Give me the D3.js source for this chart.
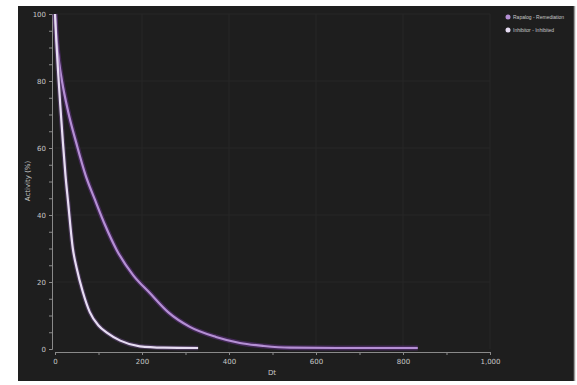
<!DOCTYPE html>
<html>
<head>
<meta charset="utf-8">
<script src="https://cdn.jsdelivr.net/npm/d3@7"></script>
<style>
	body { margin: 0; background: #ffffff; }
	text { font-family: "DejaVu Sans", sans-serif; }
</style>
</head>
<body>
<div id="contenedor_grafico"></div>
<script>
// datos (x = t, y = actividad %)
var serie_nombres = ["Rapalog - Remediation", "Inhibitor - Inhibited"];
var serie_a_x = [0, 4, 10, 16, 30, 50, 70, 92, 115, 142, 180, 218, 260, 310, 370, 425, 480, 540, 650, 750, 834];
var serie_a_y = [100, 92, 85, 80, 71, 61, 52, 44.5, 37, 29.5, 22, 16.7, 11, 6.6, 3.6, 1.8, 0.9, 0.4, 0.3, 0.3, 0.3];
var serie_b_x = [0, 3, 7, 12, 18, 24, 30, 41, 50, 64, 80, 100, 120, 150, 195, 250, 329];
var serie_b_y = [100, 92, 83, 73, 62, 52, 44, 30, 24, 17, 11, 7, 4.8, 2.5, 0.8, 0.4, 0.3];
var x_ticks = [0, 200, 400, 600, 800, 1000];
var y_ticks = [0, 20, 40, 60, 80, 100];

var width = 577;
var height = 385;

function graficarCurvas(){
	var svg = d3.select("#contenedor_grafico")
				.append("svg")
				.attr("width", width)
				.attr("height", height);

	// fondo oscuro del panel
	svg.append("rect")
		.attr("x", 18).attr("y", 6)
		.attr("width", 556).attr("height", 375)
		.attr("fill", "#1e1e1e");
	svg.append("line")
		.attr("x1", 574.5).attr("x2", 574.5)
		.attr("y1", 6).attr("y2", 381)
		.attr("stroke", "#9a9a9a").attr("stroke-width", 1.5);

	var x = d3.scaleLinear().domain([0, 1000]).range([55, 490]);
	var y = d3.scaleLinear().domain([0, 100]).range([349, 14]);

	// grilla tenue
	svg.append("g")
		.selectAll("line.vg")
		.data(x_ticks.slice(1))
		.enter()
		.append("line")
		.attr("x1", function(d){ return x(d); })
		.attr("x2", function(d){ return x(d); })
		.attr("y1", y(100)).attr("y2", y(0))
		.attr("stroke", "#262626");
	svg.append("g")
		.selectAll("line.hg")
		.data(y_ticks.slice(1))
		.enter()
		.append("line")
		.attr("x1", x(0)).attr("x2", x(1000))
		.attr("y1", function(d){ return y(d); })
		.attr("y2", function(d){ return y(d); })
		.attr("stroke", "#262626");

	// ejes, corridos un poco afuera del area
	var ejeX = d3.axisBottom(x)
				.tickValues(d3.range(0, 1001, 100))
				.tickSize(3)
				.tickFormat(function(d){ return x_ticks.indexOf(d) >= 0 ? d3.format(",")(d) : ""; });
	var ejeY = d3.axisLeft(y)
				.tickValues(d3.range(0, 101, 5))
				.tickSize(3)
				.tickFormat(function(d){ return y_ticks.indexOf(d) >= 0 ? d : ""; });

	var gx = svg.append("g")
				.attr("transform", "translate(0,352)")
				.call(ejeX);
	var gy = svg.append("g")
				.attr("transform", "translate(52,0)")
				.call(ejeY);

	[gx, gy].forEach(function(g){
		g.select(".domain").attr("stroke", "#8a8a8a");
		g.selectAll(".tick line").attr("stroke", "#8a8a8a");
		g.selectAll(".tick text")
			.attr("fill", "#c8c8c8")
			.style("font-size", "7px")
			.style("font-family", "DejaVu Sans, sans-serif");
	});
	gx.selectAll(".tick text").attr("dy", "0.9em");

	// titulos de ejes
	svg.append("text")
		.attr("x", 272).attr("y", 375)
		.attr("text-anchor", "middle")
		.attr("fill", "#c8c8c8")
		.style("font-size", "7px")
		.text("Dt");
	svg.append("text")
		.attr("transform", "translate(30,181) rotate(-90)")
		.attr("text-anchor", "middle")
		.attr("fill", "#c8c8c8")
		.style("font-size", "7px")
		.text("Activity (%)");

	var linea = d3.line()
				.x(function(d){ return x(d[0]); })
				.y(function(d){ return y(d[1]); })
				.curve(d3.curveMonotoneX);

	var datosA = d3.zip(serie_a_x, serie_a_y);
	var datosB = d3.zip(serie_b_x, serie_b_y);

	// halo + trazo para cada curva
	svg.append("path").attr("d", linea(datosA))
		.attr("fill", "none").attr("stroke", "#5a2f7a").attr("stroke-opacity", 0.6).attr("stroke-width", 5);
	svg.append("path").attr("d", linea(datosA))
		.attr("fill", "none").attr("stroke", "#b48fd4").attr("stroke-width", 2.2);

	svg.append("path").attr("d", linea(datosB))
		.attr("fill", "none").attr("stroke", "#6a4a86").attr("stroke-opacity", 0.5).attr("stroke-width", 4.5);
	svg.append("path").attr("d", linea(datosB))
		.attr("fill", "none").attr("stroke", "#e6dcf2").attr("stroke-width", 2.2);

	// leyenda
	var colores_leyenda = ["#b48fd4", "#e6dcf2"];
	var ley = svg.selectAll(".ley")
				.data(serie_nombres)
				.enter()
				.append("g")
				.attr("class", "ley")
				.attr("transform", function(d, i){ return "translate(508," + (17 + i * 13) + ")"; });
	ley.append("circle")
		.attr("r", 2.5)
		.attr("fill", function(d, i){ return colores_leyenda[i]; });
	ley.append("text")
		.attr("x", 5).attr("dy", "0.35em")
		.attr("fill", "#c8c8c8")
		.style("font-size", "5px")
		.style("font-family", "Liberation Sans, sans-serif")
		.text(function(d){ return d; });
}

graficarCurvas();
</script>
</body>
</html>
